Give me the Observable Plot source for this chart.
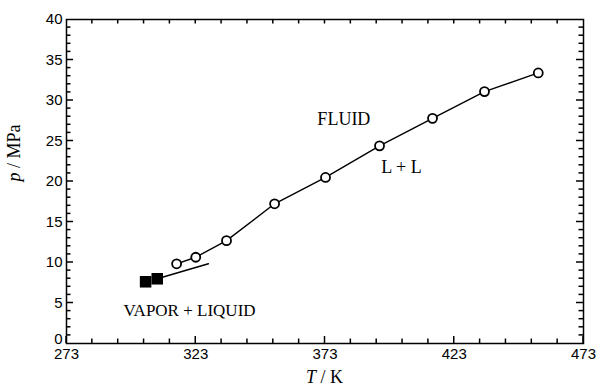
<!DOCTYPE html>
<html><head><meta charset="utf-8">
<script src="https://cdn.jsdelivr.net/npm/d3@7"></script>
<script src="https://cdn.jsdelivr.net/npm/@observablehq/plot@0.6"></script>
<style>body{margin:0;background:#fff} svg{display:block}</style>
</head><body><div id="chart"></div>
<script>
// Open circles: critical / L+L boundary data
const T_fluid = [315.6, 323.0, 334.9, 353.5, 373.2, 394.1, 414.6, 434.7, 455.5];
const p_fluid = [9.84, 10.65, 12.7, 17.25, 20.5, 24.4, 27.8, 31.1, 33.4];
// Filled squares: vapor-liquid points
const T_vle = [303.6, 308.1];
const p_vle = [7.62, 7.99];
// Vapor-liquid line
const T_vleLine = [308.1, 327.9];
const p_vleLine = [7.99, 9.85];
// Region labels
const labelText = ["FLUID", "L + L", "VAPOR + LIQUID"];
const labelT = [380.3, 402.6, 320.6];
const labelP = [27.7, 21.7, 4.07];
const labelSize = [18, 18, 17];
// Ticks
const xMajor = [273, 323, 373, 423, 473];
const xMinor = [283, 293, 303, 313, 333, 343, 353, 363, 383, 393, 403, 413, 433, 443, 453, 463];
const xTop = [283, 293, 303, 313, 323, 333, 343, 353, 363, 373, 383, 393, 403, 413, 423, 433, 443, 453, 463];
const yMajor = [5, 10, 15, 20, 25, 30, 35];
const yLabels = [5, 10, 15, 20, 25, 30, 35, 40];
const yMinor = [1, 2, 3, 4, 6, 7, 8, 9, 11, 12, 13, 14, 16, 17, 18, 19, 21, 22, 23, 24, 26, 27, 28, 29, 31, 32, 33, 34, 36, 37, 38, 39];

const fluid = T_fluid.map((T, i) => ({T, p: p_fluid[i]}));
const vle = T_vle.map((T, i) => ({T, p: p_vle[i]}));
const vleLine = T_vleLine.map((T, i) => ({T, p: p_vleLine[i]}));
const labels = labelText.map((text, i) => ({text, T: labelT[i], p: labelP[i], size: labelSize[i]}));

const plot = Plot.plot({
  width: 600, height: 387,
  marginLeft: 66, marginRight: 17, marginTop: 19, marginBottom: 44,
  x: {domain: [273, 473], label: null},
  y: {domain: [0, 40], label: null},
  style: {fontFamily: "Liberation Sans", fontSize: "15px"},
  marks: [
    Plot.axisX({ticks: xMajor, anchor: "bottom", tickSize: 0, tickPadding: 5, label: null, tickFormat: d => String(d)}),
    Plot.axisY({ticks: yLabels, anchor: "left", tickSize: 0, tickPadding: 4, label: null}),
    Plot.axisY({ticks: [0], anchor: "left", tickSize: 0, tickPadding: 4, label: null, dy: -4}),
    Plot.frame({stroke: "black", strokeWidth: 1.5}),
    Plot.line(fluid, {x: "T", y: "p", stroke: "black", strokeWidth: 1.4}),
    Plot.line(vleLine, {x: "T", y: "p", stroke: "black", strokeWidth: 1.4}),
    Plot.dot(fluid, {x: "T", y: "p", r: 4.5, fill: "white", stroke: "black", strokeWidth: 1.8}),
    Plot.dot(vle, {x: "T", y: "p", symbol: "square", r: 6.5, fill: "black", stroke: "none"}),
    Plot.text(labels, {x: "T", y: "p", text: "text", fontSize: "size", fontFamily: "Liberation Serif", fill: "black"})
  ]
});

const svg = d3.select(plot);
// inward ticks, positioned through Plot's own scales
const sx = plot.scale("x"), sy = plot.scale("y");
const yBot = sy.apply(0), yTop = sy.apply(40), xLeft = sx.apply(273), xRight = sx.apply(473);
function seg(x1, y1, x2, y2) {
  svg.append("line").attr("x1", x1).attr("y1", y1).attr("x2", x2).attr("y2", y2)
    .attr("stroke", "black").attr("stroke-width", 1.5);
}
xMinor.forEach(v => { const X = sx.apply(v); seg(X, yBot, X, yBot - 4.5); });
xMajor.forEach(v => { const X = sx.apply(v); seg(X, yBot, X, yBot - 7); });
xTop.forEach(v => { const X = sx.apply(v); seg(X, yTop, X, yTop + 4.5); });
yMinor.forEach(v => { const Y = sy.apply(v); seg(xLeft, Y, xLeft + 4.5, Y); seg(xRight, Y, xRight - 4.5, Y); });
yMajor.forEach(v => { const Y = sy.apply(v); seg(xLeft, Y, xLeft + 7, Y); seg(xRight, Y, xRight - 7, Y); });

const xl = svg.append("text").attr("x", 324.5).attr("y", 383).attr("text-anchor", "middle")
  .attr("font-family", "Liberation Serif").attr("font-size", 18).attr("fill", "black");
xl.append("tspan").attr("font-style", "italic").text("T");
xl.append("tspan").text(" / K");
const yl = svg.append("text").attr("transform", "translate(20,153) rotate(-90)").attr("text-anchor", "middle")
  .attr("font-family", "Liberation Serif").attr("font-size", 18).attr("fill", "black");
yl.append("tspan").attr("font-style", "italic").text("p");
yl.append("tspan").text(" / MPa");

document.getElementById("chart").appendChild(plot);
</script>
</body></html>
